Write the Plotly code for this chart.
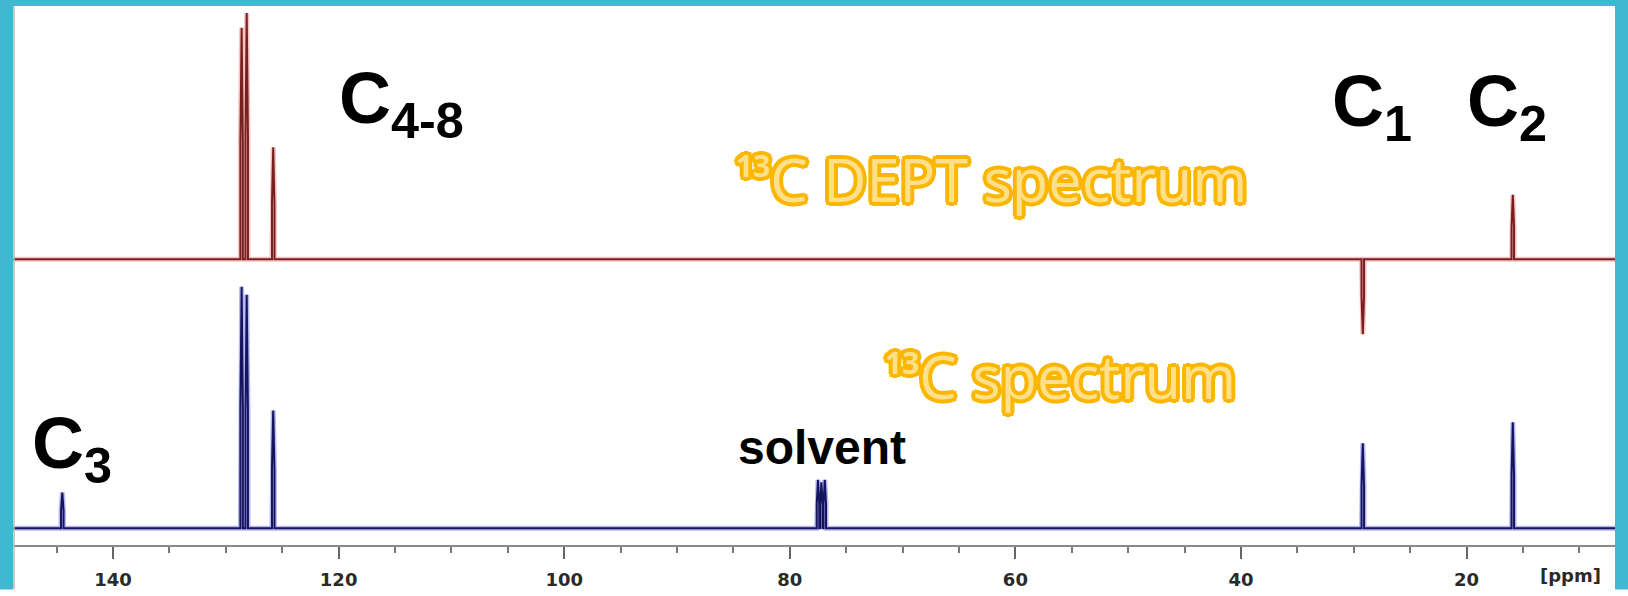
import plotly.graph_objects as go

# ---------------- data ----------------
# 13C DEPT spectrum (red, top): peak positions (ppm) and relative intensities
dept_ppm = [128.6, 128.15, 125.8, 29.2, 15.9]
dept_int = [94.0, 100.0, 45.4, -30.5, 26.1]

# 13C spectrum (blue, bottom)
c13_ppm = [144.5, 128.6, 128.15, 125.8, 77.5, 77.2, 76.9, 29.2, 15.9]
c13_int = [14.8, 100.0, 96.7, 48.8, 20.0, 19.0, 20.0, 35.2, 43.9]

# axis
ppm_range = [148.87, 6.84]
major_ticks = [140, 120, 100, 80, 60, 40, 20]

# labels
peak_labels = ["C<sub>4-8</sub>", "C<sub>1</sub>", "C<sub>2</sub>", "C<sub>3</sub>"]
solvent_label = "solvent"
sup13 = "<sup><span style='font-size:30px;font-weight:bold'>13</span></sup>"
dept_title = sup13 + "C DEPT spectrum"
c13_title = sup13 + "C spectrum"
unit_label = "[ppm]"

# ---------------- geometry helpers (pixels of the 1628x596 page) ----------------
W, H = 1628, 596
ML, MR, MT, MB = 13, 13, 6, 45
PW, PH = W - ML - MR, H - MT - MB


def px_x(px):
    return (px - ML) / PW


def px_y(py):
    return (H - MB - py) / PH


def stick_trace_xy(pos, inten, hw=0.11, shoulder=0.5):
    """Each peak drawn as a stick whose lower half is slightly thicker."""
    xs, ys = [ppm_range[0]], [0.0]
    for p, h in sorted(zip(pos, inten), key=lambda t: -t[0]):
        xs += [p + hw, p + hw, p, p - hw, p - hw]
        ys += [0.0, h * shoulder, h, h * shoulder, 0.0]
    xs.append(ppm_range[1])
    ys.append(0.0)
    return xs, ys


fig = go.Figure()

# blue 13C spectrum on y (bottom)
bx, by = stick_trace_xy(c13_ppm, c13_int)
fig.add_trace(go.Scatter(x=bx, y=by, mode="lines", yaxis="y",
                         line=dict(color="rgba(50,50,215,0.35)", width=5),
                         hoverinfo="skip", showlegend=False))
fig.add_trace(go.Scatter(x=bx, y=by, mode="lines", yaxis="y",
                         line=dict(color="#15145e", width=2),
                         name="13C", showlegend=False))

# red DEPT spectrum on y2 (top)
rx, ry = stick_trace_xy(dept_ppm, dept_int)
fig.add_trace(go.Scatter(x=rx, y=ry, mode="lines", yaxis="y2",
                         line=dict(color="rgba(235,80,80,0.35)", width=5),
                         hoverinfo="skip", showlegend=False))
fig.add_trace(go.Scatter(x=rx, y=ry, mode="lines", yaxis="y2",
                         line=dict(color="#782020", width=2),
                         name="DEPT", showlegend=False))

# y ranges chosen so that baselines sit where they sit in the picture
blue_base, blue_top = 534, 290     # pixel of 0 and of 100
red_base, red_top = 262, 13
kb = (blue_base - blue_top) / 100
kr = (red_base - red_top) / 100
yb_range = [-(H - MB - blue_base) / kb, (blue_base - MT) / kb]
yr_range = [-(H - MB - red_base) / kr, (red_base - MT) / kr]

fig.update_layout(
    width=W, height=H,
    margin=dict(l=ML, r=MR, t=MT, b=MB),
    paper_bgcolor="white", plot_bgcolor="white",
    xaxis=dict(range=ppm_range, tickmode="array", tickvals=major_ticks,
               ticktext=[str(t) for t in major_ticks],
               showgrid=False, zeroline=False,
               showline=True, linecolor="#8a8a8a", linewidth=1.5,
               ticks="outside", ticklen=12, tickwidth=2, tickcolor="#666",
               ticklabelstandoff=6,
               minor=dict(dtick=5, tick0=0, ticks="outside", ticklen=6,
                          tickwidth=2, tickcolor="#777", showgrid=False),
               tickfont=dict(family="DejaVu Sans", size=18, color="#2a2a2a",
                             weight="bold")),
    yaxis=dict(range=yb_range, visible=False, domain=[0, 1]),
    yaxis2=dict(range=yr_range, visible=False, overlaying="y"),
)

# ---------------- teal frame ----------------
teal = "#41b7d1"
frame = [
    (0, 0, ML, H),
    (W - MR, 0, W, H),
    (0, 0, W, MT),
]
for x0, y0, x1, y1 in frame:
    fig.add_shape(type="rect", xref="paper", yref="paper",
                  x0=px_x(x0), x1=px_x(x1), y0=px_y(y1), y1=px_y(y0),
                  fillcolor=teal, line=dict(width=0), layer="above")
fig.add_shape(type="line", xref="paper", yref="paper",
              x0=px_x(ML + 1), x1=px_x(ML + 1), y0=px_y(H), y1=px_y(MT),
              line=dict(color="#b9b9b9", width=1.5), layer="above")

# ---------------- labels ----------------
black_font = dict(family="Liberation Sans, Arial", size=72, color="black",
                  weight="bold")
label_pos = [(337, 57), (1330, 60), (1465, 60), (30, 405)]
for txt, (lx, ly) in zip(peak_labels, label_pos):
    fig.add_annotation(text=txt, xref="paper", yref="paper",
                       x=px_x(lx), y=px_y(ly), xanchor="left", yanchor="top",
                       showarrow=False, font=black_font)

fig.add_annotation(text=solvent_label, xref="paper", yref="paper",
                   x=px_x(736), y=px_y(424), xanchor="left", yanchor="top",
                   showarrow=False,
                   font=dict(family="Liberation Sans, Arial", size=48,
                             color="black", weight="bold"))

orange = "#fbb600"
offs = [(3, 0), (-3, 0), (0, 3), (0, -3), (2, 2), (-2, -2), (2, -2), (-2, 2),
        (3, 1), (-3, 1), (3, -1), (-3, -1), (1, 3), (1, -3), (-1, 3), (-1, -3),
        (4, 0), (-4, 0), (0, 4), (0, -4), (3, 3), (-3, -3), (3, -3), (-3, 3)]
outline = ", ".join(f"{orange} {dx}px {dy}px 0px" for dx, dy in offs)
orange_font = dict(family="Open Sans", size=59.5, color="#ffe08a",
                   shadow=outline)
fig.add_annotation(text=dept_title, xref="paper", yref="paper",
                   x=px_x(734), y=px_y(137), xanchor="left", yanchor="top",
                   showarrow=False, font=orange_font)
fig.add_annotation(text=c13_title, xref="paper", yref="paper",
                   x=px_x(883), y=px_y(337), xanchor="left", yanchor="top",
                   showarrow=False, font=orange_font)

fig.add_annotation(text=unit_label, xref="paper", yref="paper",
                   x=px_x(1538), y=px_y(582), xanchor="left", yanchor="middle",
                   showarrow=False,
                   font=dict(family="DejaVu Sans", size=18, color="#2a2a2a",
                             weight="bold"))

fig.write_html("out.html",
               config={"displayModeBar": False},
               post_script="document.body.style.margin='0';"
                           "document.body.style.overflow='hidden';")
